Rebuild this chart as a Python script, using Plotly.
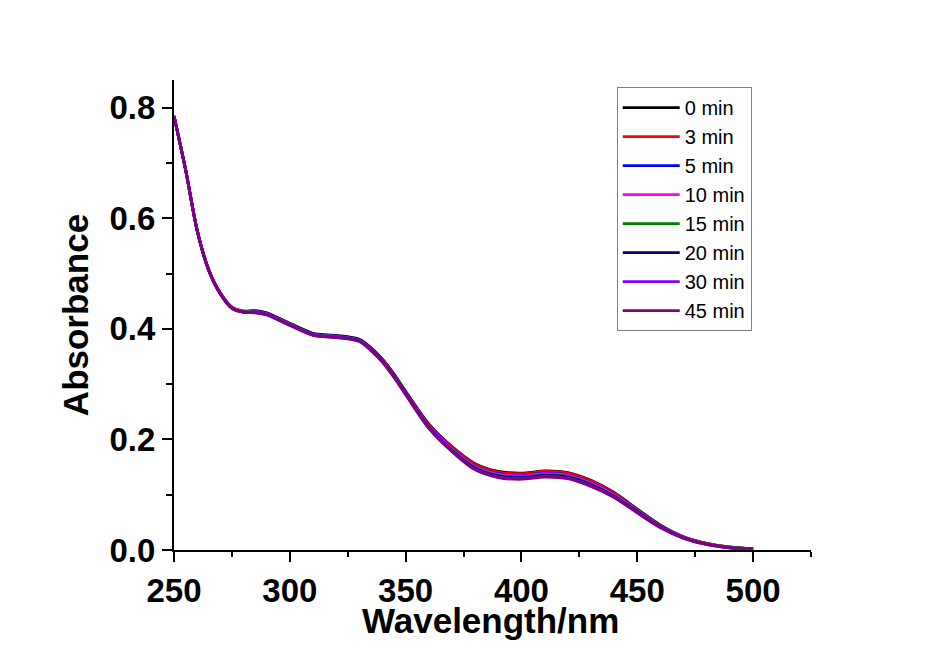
import plotly.graph_objects as go

# Wavelength grid (nm) shared by all spectra
wavelength = [250, 255, 260, 265, 270, 275, 280, 285, 290, 300, 310, 320, 330, 335, 340, 345, 350,
              360, 370, 380, 390, 400, 410, 420, 430, 440, 450, 460, 470, 480, 490, 500]

# Absorbance spectra recorded at each irradiation time
abs_0 = [0.785, 0.688, 0.578, 0.507, 0.465, 0.439, 0.432, 0.433, 0.429, 0.410, 0.392, 0.388, 0.381, 0.366, 0.345, 0.318, 0.287,
         0.228, 0.187, 0.156, 0.142, 0.139, 0.143, 0.140, 0.126, 0.104, 0.074, 0.045, 0.024, 0.012, 0.005, 0.002]
abs_3 = [0.785, 0.688, 0.578, 0.507, 0.465, 0.439, 0.432, 0.432, 0.428, 0.409, 0.391, 0.387, 0.380, 0.365, 0.344, 0.317, 0.286,
         0.227, 0.186, 0.155, 0.141, 0.138, 0.142, 0.139, 0.125, 0.103, 0.073, 0.045, 0.024, 0.012, 0.005, 0.002]
abs_5 = [0.785, 0.688, 0.578, 0.506, 0.464, 0.438, 0.431, 0.432, 0.428, 0.409, 0.391, 0.387, 0.380, 0.364, 0.343, 0.316, 0.285,
         0.225, 0.184, 0.152, 0.138, 0.135, 0.139, 0.136, 0.122, 0.101, 0.072, 0.044, 0.023, 0.011, 0.005, 0.002]
abs_10 = [0.785, 0.688, 0.578, 0.506, 0.464, 0.438, 0.431, 0.431, 0.427, 0.408, 0.390, 0.386, 0.379, 0.363, 0.342, 0.315, 0.284,
          0.224, 0.183, 0.151, 0.137, 0.134, 0.138, 0.135, 0.121, 0.100, 0.071, 0.043, 0.023, 0.011, 0.005, 0.002]
abs_15 = [0.785, 0.688, 0.578, 0.506, 0.464, 0.438, 0.431, 0.431, 0.427, 0.408, 0.390, 0.386, 0.379, 0.363, 0.342, 0.315, 0.284,
          0.223, 0.181, 0.149, 0.135, 0.132, 0.136, 0.133, 0.119, 0.098, 0.070, 0.043, 0.023, 0.011, 0.005, 0.002]
abs_20 = [0.785, 0.688, 0.578, 0.506, 0.463, 0.437, 0.430, 0.430, 0.426, 0.407, 0.389, 0.385, 0.378, 0.362, 0.341, 0.314, 0.283,
          0.222, 0.180, 0.148, 0.134, 0.131, 0.135, 0.132, 0.118, 0.097, 0.069, 0.042, 0.022, 0.010, 0.004, 0.002]
abs_30 = [0.785, 0.688, 0.578, 0.505, 0.463, 0.437, 0.430, 0.430, 0.426, 0.407, 0.389, 0.385, 0.378, 0.361, 0.340, 0.313, 0.282,
          0.221, 0.179, 0.146, 0.132, 0.129, 0.133, 0.130, 0.116, 0.096, 0.068, 0.041, 0.022, 0.010, 0.004, 0.002]
abs_45 = [0.785, 0.688, 0.578, 0.505, 0.463, 0.437, 0.430, 0.429, 0.425, 0.406, 0.388, 0.384, 0.377, 0.361, 0.340, 0.312, 0.281,
          0.220, 0.178, 0.145, 0.131, 0.128, 0.132, 0.129, 0.115, 0.095, 0.067, 0.040, 0.021, 0.010, 0.004, 0.002]

series_names = ["0 min", "3 min", "5 min", "10 min", "15 min", "20 min", "30 min", "45 min"]
series_values = [abs_0, abs_3, abs_5, abs_10, abs_15, abs_20, abs_30, abs_45]
series_colors = ["#000000", "#FF0000", "#0000FF", "#FF00FF", "#008000", "#000080", "#8000FF", "#800080"]

x_ticks = [250, 300, 350, 400, 450, 500]
y_ticks = [0.0, 0.2, 0.4, 0.6, 0.8]
y_tick_text = ["0.0", "0.2", "0.4", "0.6", "0.8"]

FONT = "Liberation Sans, Arial, sans-serif"

fig = go.Figure()
for name, vals, color in zip(series_names, series_values, series_colors):
    fig.add_trace(go.Scatter(
        x=wavelength, y=vals, mode="lines", name=name,
        line=dict(color=color, width=2.8, shape="spline", smoothing=0.8),
    ))

axis_common = dict(
    showgrid=False, zeroline=False, showline=True, linecolor="black", linewidth=2,
    ticks="outside", ticklen=10, tickwidth=2, tickcolor="black",
    tickfont=dict(family=FONT, size=33, color="black", weight="bold"),
    mirror=False,
)

fig.update_layout(
    width=926, height=648,
    margin=dict(l=174, r=115, t=80, b=98),
    paper_bgcolor="white", plot_bgcolor="white",
    showlegend=True,
    legend=dict(
        x=0.695, y=0.985, xanchor="left", yanchor="top",
        bgcolor="white", bordercolor="#808080", borderwidth=1,
        font=dict(family=FONT, size=20, color="black"),
        itemwidth=57, tracegroupgap=0,
    ),
    xaxis=dict(
        range=[250, 525], tickvals=x_ticks,
        minor=dict(ticks="outside", ticklen=5, tickwidth=2, tickcolor="black", dtick=25, tick0=250),
        **axis_common,
    ),
    yaxis=dict(
        range=[0, 0.85], tickvals=y_ticks, ticktext=y_tick_text,
        minor=dict(ticks="outside", ticklen=6, tickwidth=2, tickcolor="black", dtick=0.1, tick0=0),
        title=dict(text="Absorbance", font=dict(family=FONT, size=35, color="black", weight="bold"),
                   standoff=10),
        **axis_common,
    ),
    annotations=[dict(
        text="Wavelength/nm", xref="paper", yref="paper", x=0.497, y=0,
        xanchor="center", yanchor="top", yshift=-49, showarrow=False,
        font=dict(family=FONT, size=35, color="black", weight="bold"),
    )],
)

fig.write_html("out.html")
